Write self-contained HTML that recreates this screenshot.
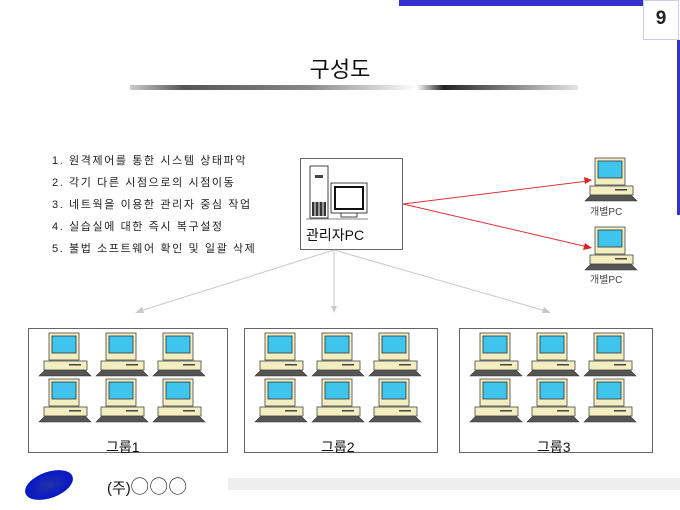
<!DOCTYPE html>
<html><head><meta charset="utf-8"><style>
html,body{margin:0;padding:0;background:#fff;}
body{width:680px;height:510px;position:relative;overflow:hidden;font-family:"Liberation Sans","Noto Sans CJK KR",sans-serif;}
.a{position:absolute;}
.li{position:absolute;left:52px;font-size:11px;color:#222;letter-spacing:1.6px;white-space:nowrap;}
.lbl{position:absolute;font-size:13px;color:#111;}
</style></head><body>
<svg class="a" style="left:0;top:0" width="680" height="510" viewBox="0 0 680 510">
<defs>
<linearGradient id="g1" x1="0" x2="1">
<stop offset="0" stop-color="#ccc"/><stop offset="0.12" stop-color="#555"/><stop offset="0.4" stop-color="#888"/><stop offset="0.64" stop-color="#fff"/><stop offset="0.7" stop-color="#222"/><stop offset="1" stop-color="#e5e5e5"/>
</linearGradient>
<radialGradient id="eg" cx="0.5" cy="0.5" r="0.6"><stop offset="0" stop-color="#2233aa"/><stop offset="1" stop-color="#0011cc"/></radialGradient>
<g id="pc">
<path d="M0 43 L6 37 L46 37 L52 43 Z" fill="#555" stroke="#333" stroke-width="0.6"/>
<rect x="5" y="28" width="43" height="9" fill="#f3eec0" stroke="#444" stroke-width="0.8"/>
<rect x="30" y="31" width="12" height="1.5" fill="#444"/>
<rect x="10" y="0" width="30" height="27" fill="#f3eec0" stroke="#444" stroke-width="0.8"/>
<rect x="13" y="3" width="24" height="17" fill="#3fc4ee" stroke="#333" stroke-width="0.8"/>
</g>
</defs>
<rect x="399" y="0" width="245" height="6" fill="#3333cc"/>
<rect x="643.5" y="0.5" width="35" height="39" fill="#fff" stroke="#ccccf0"/>
<rect x="677" y="40" width="3" height="175" fill="#3333cc"/>
<rect x="130" y="85" width="448" height="5" fill="url(#g1)"/>
<rect x="300.5" y="158.5" width="102" height="91" fill="#fff" stroke="#666"/>
<g transform="translate(306,166)">
<rect x="4" y="0" width="18" height="52" fill="#fff" stroke="#444" stroke-width="1"/>
<rect x="6" y="36" width="14" height="14" fill="#333"/>
<line x1="9" y1="36" x2="9" y2="50" stroke="#fff"/><line x1="13" y1="36" x2="13" y2="50" stroke="#fff"/><line x1="17" y1="36" x2="17" y2="50" stroke="#fff"/>
<rect x="9" y="9" width="8" height="3" fill="#444"/>
<rect x="25" y="17" width="36" height="30" fill="#fff" stroke="#444"/>
<rect x="29" y="21" width="28" height="22" fill="#fff" stroke="#111" stroke-width="2"/>
<rect x="35" y="47" width="16" height="4" fill="#fff" stroke="#444"/>
<line x1="0" y1="53" x2="62" y2="53" stroke="#888"/>
</g>
<g stroke="#dd3333" stroke-width="1" fill="#dd2222">
<line x1="403" y1="204" x2="588" y2="181"/><path d="M592 180 L584 177 L585 184 Z" stroke="none"/>
<line x1="403" y1="204" x2="588" y2="247"/><path d="M592 248 L585 243 L583 250 Z" stroke="none"/>
</g>
<g stroke="#c8c8c8" stroke-width="1" fill="#c8c8c8">
<line x1="334" y1="250" x2="140" y2="311"/><path d="M135 313 L142 307 L144 313 Z" stroke="none"/>
<line x1="334" y1="250" x2="334" y2="308"/><path d="M334 313 L331 306 L337 306 Z" stroke="none"/>
<line x1="334" y1="250" x2="546" y2="311"/><path d="M551 313 L544 307 L542 313 Z" stroke="none"/>
</g>
<use href="#pc" x="585" y="158"/>
<use href="#pc" x="585" y="227"/>
<rect x="28.5" y="328.5" width="199" height="124" fill="none" stroke="#666"/>
<rect x="244.5" y="328.5" width="193" height="124" fill="none" stroke="#666"/>
<rect x="459.5" y="328.5" width="193" height="124" fill="none" stroke="#666"/>
<g>
<use href="#pc" x="39" y="333"/><use href="#pc" x="96" y="333"/><use href="#pc" x="153" y="333"/>
<use href="#pc" x="39" y="379"/><use href="#pc" x="96" y="379"/><use href="#pc" x="153" y="379"/>
<use href="#pc" x="255" y="333"/><use href="#pc" x="312" y="333"/><use href="#pc" x="369" y="333"/>
<use href="#pc" x="255" y="379"/><use href="#pc" x="312" y="379"/><use href="#pc" x="369" y="379"/>
<use href="#pc" x="470" y="333"/><use href="#pc" x="527" y="333"/><use href="#pc" x="584" y="333"/>
<use href="#pc" x="470" y="379"/><use href="#pc" x="527" y="379"/><use href="#pc" x="584" y="379"/>
</g>
<ellipse cx="49" cy="485" rx="25" ry="13" transform="rotate(-20 49 485)" fill="url(#eg)"/>
<rect x="228" y="478" width="452" height="12" fill="#eee"/>
</svg>
<div class="a" style="left:643px;top:8px;width:36px;text-align:center;font-size:19px;font-weight:bold;color:#222;">9</div>
<div class="a" style="left:0;width:680px;top:52px;text-align:center;font-size:22px;color:#111;">구성도</div>
<div class="li" style="top:152px">1. 원격제어를 통한 시스템 상태파악</div>
<div class="li" style="top:174px">2. 각기 다른 시점으로의 시점이동</div>
<div class="li" style="top:196px">3. 네트웍을 이용한 관리자 중심 작업</div>
<div class="li" style="top:218px">4. 실습실에 대한 즉시 복구설정</div>
<div class="li" style="top:240px">5. 불법 소프트웨어 확인 및 일괄 삭제</div>
<div class="lbl" style="left:306px;top:225px;font-size:14px;">관리자PC</div>
<div class="lbl" style="left:590px;top:203px;font-size:10px;color:#444;">개별PC</div>
<div class="lbl" style="left:590px;top:271px;font-size:10px;color:#444;">개별PC</div>
<div class="lbl" style="left:106px;top:437px;font-size:14px;">그룹1</div>
<div class="lbl" style="left:321px;top:437px;font-size:14px;">그룹2</div>
<div class="lbl" style="left:537px;top:437px;font-size:14px;">그룹3</div>
<div class="lbl" style="left:107px;top:473px;font-size:15px;">(주)<span style="font-size:18px;letter-spacing:1px;">◯◯◯</span></div>
</body></html>
